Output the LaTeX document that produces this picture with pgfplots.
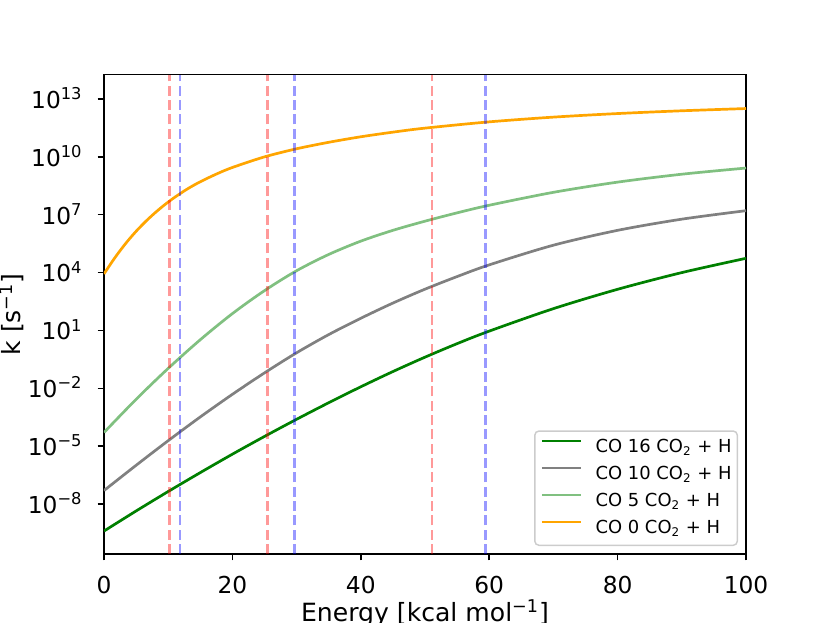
\documentclass[border=0pt]{standalone}
\usepackage{fontspec}
\setmainfont{DejaVu Sans}
\usepackage{pgfplots}
\pgfplotsset{compat=1.18}
\definecolor{mplorange}{HTML}{FFA500}
\definecolor{mplgreen}{HTML}{008000}
\definecolor{mpllgreen}{rgb}{0.5,0.751,0.5}
\definecolor{mplgray}{HTML}{808080}
\begin{document}
\begin{tikzpicture}
\path[use as bounding box] (-52bp,-34.5bp) rectangle (363bp,277bp);
\begin{axis}[
  at={(0,0)}, anchor=south west,
  scale only axis, width=321bp, height=239.65bp,
  xmin=0, xmax=100,
  ymode=log, ymin=2.57e-11, ymax=1.82e14,
  xtick={0,20,40,60,80,100},
  xticklabels={0,20,40,60,80,100},
  ytick={1e-8,1e-5,1e-2,1e1,1e4,1e7,1e10,1e13},
  yticklabels={10\textsuperscript{−8},10\textsuperscript{−5},10\textsuperscript{−2},10\textsuperscript{1},10\textsuperscript{4},10\textsuperscript{7},10\textsuperscript{10},10\textsuperscript{13}},
  yminorticks=false,
  tick pos=left,
  tick align=outside,
  major tick length=3.15bp,
  major tick style={black, line width=0.72bp},
  axis line style={line width=0.72bp},
  tick label style={font=\fontsize{11.7}{14}\selectfont},
  xticklabel style={anchor=base, inner sep=0pt, yshift=-16.35bp},
  yticklabel style={anchor=base east, inner sep=0pt, xshift=-7.35bp, yshift=-4.65bp},
  xlabel={Energy [kcal mol\textsuperscript{−1}]},
  xlabel style={at={(axis description cs:0.5,-0.1398)}, anchor=base, inner sep=0pt, font=\fontsize{12.6}{15}\selectfont},
  ylabel={k [s\textsuperscript{−1}]},
  ylabel style={at={(axis description cs:-0.1293,0.5)}, anchor=base, inner sep=0pt, font=\fontsize{12.6}{15}\selectfont},
  legend cell align=left,
  legend image code/.code={\draw[#1, line width=1.35bp] (0bp,3.3bp) -- (19.5bp,3.3bp);},
  legend style={at={(axis description cs:0.98754,0.01669)}, anchor=south east,
    draw=black!20, line width=0.72bp, rounded corners=2bp, fill=white,
    inner xsep=2.85bp, inner ysep=3.8bp, row sep=4.5bp, column sep=6.65bp,
    font=\fontsize{9}{10.8}\selectfont,
    nodes={inner sep=0pt, text height=7bp, text depth=2bp}},
]
% CO 16 CO2 + H
\addplot[mplgreen, line width=1.35bp, smooth] coordinates {
(0,3.98e-10) (5,4.37e-9) (10,4.47e-8) (15,4.27e-7) (20,3.85e-6)
(25,3.20e-5) (30,2.48e-4) (35,1.79e-3) (40,1.20e-2) (45,7.40e-2)
(50,4.12e-1) (55,2.07) (60,9.23) (70,1.35e2) (80,1.36e3)
(90,1.0e4) (100,5.50e4)};
\addlegendentry{CO 16 CO\textsubscript{2} + H}
% CO 10 CO2 + H
\addplot[mplgray, line width=1.35bp, smooth] coordinates {
(0,5.01e-8) (5,1.02e-6) (10,1.93e-5) (15,3.28e-4) (20,4.88e-3)
(25,6.31e-2) (30,6.97e-1) (35,6.10) (40,4.28e1) (45,2.63e2)
(50,1.38e3) (55,6.22e3) (60,2.51e4) (70,2.63e5) (80,1.55e6)
(90,5.89e6) (100,1.62e7)};
\addlegendentry{CO 10 CO\textsubscript{2} + H}
% CO 5 CO2 + H
\addplot[mpllgreen, line width=1.35bp, smooth] coordinates {
(0,5.13e-5) (5,2.69e-3) (10,1.08e-1) (15,3.31) (20,7.48e1)
(25,1.16e3) (30,1.25e4) (35,8.71e4) (40,4.27e5) (45,1.55e6)
(50,4.63e6) (55,1.25e7) (60,3.10e7) (70,1.45e8) (80,4.90e8)
(90,1.26e9) (100,2.63e9)};
\addlegendentry{CO 5 CO\textsubscript{2} + H}
% CO 0 CO2 + H
\addplot[mplorange, line width=1.35bp, smooth] coordinates {
(0,8.51e3) (1,2.72e4) (2,8.13e4) (3.5,3.65e5) (5,1.38e6)
(6.5,4.51e6) (8,1.30e7) (9.5,3.38e7) (11,7.94e7) (13,2.18e8)
(15,5.13e8) (17.5,1.28e9) (20,2.82e9) (25,1.0e10) (30,2.63e10)
(35,5.69e10) (40,1.10e11) (45,1.91e11) (50,3.09e11) (60,6.53e11)
(70,1.15e12) (80,1.76e12) (90,2.45e12) (100,3.20e12)};
\addlegendentry{CO 0 CO\textsubscript{2} + H}
% vertical dashed lines
\addplot[forget plot, red, opacity=0.4, line width=1.35bp, dash pattern=on 5bp off 2.16bp] coordinates {(10.17,2.57e-11) (10.17,1.82e14)};
\addplot[forget plot, red, opacity=0.4, line width=1.35bp, dash pattern=on 5bp off 2.16bp] coordinates {(25.45,2.57e-11) (25.45,1.82e14)};
\addplot[forget plot, red, opacity=0.4, line width=1.35bp, dash pattern=on 5bp off 2.16bp] coordinates {(51.1,2.57e-11) (51.1,1.82e14)};
\addplot[forget plot, blue, opacity=0.4, line width=1.35bp, dash pattern=on 5bp off 2.16bp] coordinates {(11.84,2.57e-11) (11.84,1.82e14)};
\addplot[forget plot, blue, opacity=0.4, line width=1.35bp, dash pattern=on 5bp off 2.16bp] coordinates {(29.65,2.57e-11) (29.65,1.82e14)};
\addplot[forget plot, blue, opacity=0.4, line width=1.35bp, dash pattern=on 5bp off 2.16bp] coordinates {(59.4,2.57e-11) (59.4,1.82e14)};
\end{axis}
\end{tikzpicture}
\end{document}
